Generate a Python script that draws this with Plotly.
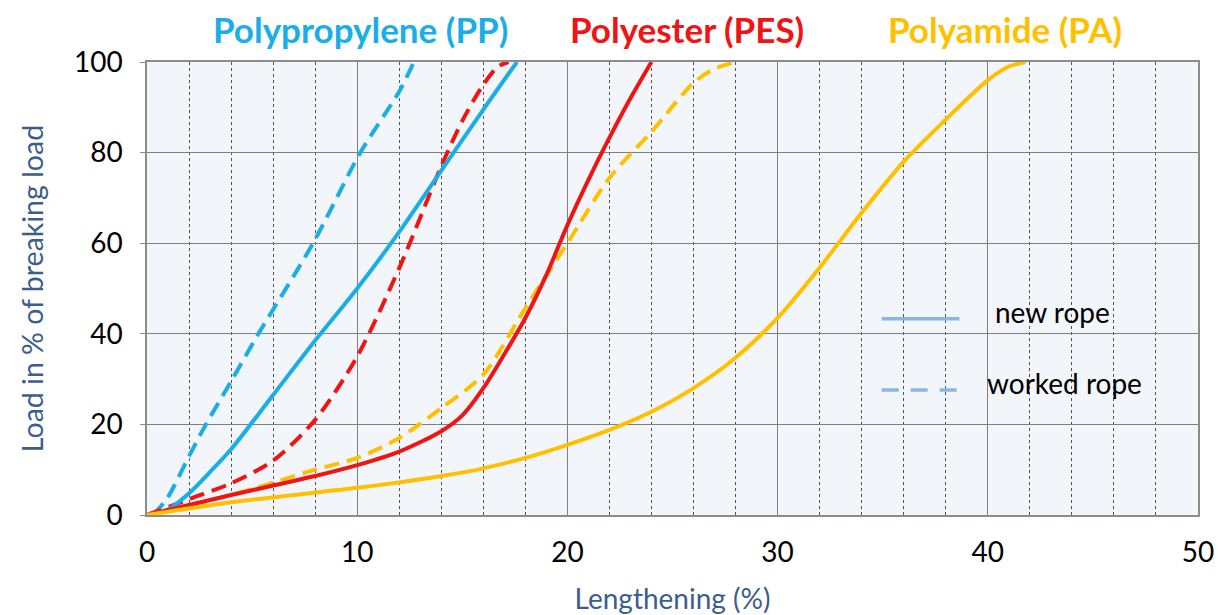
import plotly.graph_objects as go

# ---- data ----
pp_new_x = [0, 1, 2, 3, 4, 6, 8, 10, 12, 14, 16, 17.6]
pp_new_y = [0, 1.2, 4.8, 9.5, 14.5, 26.5, 38.5, 50, 62.5, 76, 89.5, 100]

pp_worked_x = [0.3, 1, 2, 2.8, 4, 5.3, 7.9, 10.15, 12, 12.7]
pp_worked_y = [0, 4, 13, 20, 29.5, 40, 60, 80, 93.5, 100]

pes_new_x = [0, 2, 4, 6, 8, 10, 12, 14, 15, 16, 17, 18, 19, 20, 21, 22, 23, 24]
pes_new_y = [0, 2.2, 4.4, 6.5, 8.6, 11, 14, 18.5, 22, 28, 35.5, 43.5, 53, 64, 74, 83.3, 92, 100]

pes_worked_x = [0, 2, 4, 6, 8, 10, 12, 14, 15, 16, 16.7, 17.2]
pes_worked_y = [0, 3.5, 7, 12, 21, 35, 54.5, 77, 87, 95, 99, 100]

pa_new_x = [0, 4, 10, 12, 14, 16, 18, 20, 22, 24, 26, 28, 30, 32, 34, 36, 38, 40, 41, 41.8]
pa_new_y = [0, 2.8, 6, 7.2, 8.6, 10.3, 12.6, 15.5, 18.8, 22.8, 28, 34.7, 43.5, 54.6, 66.7, 78, 87.3, 96, 99, 100]

pa_worked_x = [0, 4, 8, 10, 12, 14, 16, 18, 20, 22, 24, 26, 27, 28]
pa_worked_y = [0, 4.4, 10, 12.6, 17, 23.6, 31, 45.7, 60, 74.4, 84.6, 95.4, 98.5, 100]

x_ticks = [0, 10, 20, 30, 40, 50]
y_ticks = [0, 20, 40, 60, 80, 100]

titles = ["Polypropylene (PP)", "Polyester (PES)", "Polyamide (PA)"]
legend_labels = ["new rope", "worked rope"]

CYAN = "#1aaee6"
RED = "#f01414"
YELLOW = "#ffc000"
LEG = "#8db4e2"
FONT = "Lato"
DASH = "15px,8px"

fig = go.Figure()

def add(x, y, color, dash):
    fig.add_trace(go.Scatter(
        x=x, y=y, mode="lines",
        line=dict(color=color, width=4, dash=dash, shape="spline", smoothing=0.8),
        hoverinfo="skip", showlegend=False,
    ))

add(pp_worked_x, pp_worked_y, CYAN, DASH)
add(pes_worked_x, pes_worked_y, RED, DASH)
add(pa_worked_x, pa_worked_y, YELLOW, DASH)
add(pp_new_x, pp_new_y, CYAN, "solid")
add(pes_new_x, pes_new_y, RED, "solid")
add(pa_new_x, pa_new_y, YELLOW, "solid")

fig.update_layout(
    width=1222, height=607,
    margin=dict(l=139, r=32, t=54, b=100, autoexpand=False),
    paper_bgcolor="white",
    plot_bgcolor="#f2f5f9",
    font=dict(family=FONT, color="black"),
    showlegend=False,
)

fig.update_xaxes(
    range=[0, 50], tickvals=x_ticks, ticktext=[str(v) for v in x_ticks],
    automargin=False,
    showgrid=True, gridcolor="#7f7f7f", gridwidth=1,
    minor=dict(dtick=2, showgrid=True, gridcolor="#555555", griddash="dot", gridwidth=1),
    showline=True, linecolor="#8c8c8c", linewidth=1.5, mirror=True,
    ticks="", tickfont=dict(size=28, color="black", family=FONT),
    ticklabelstandoff=12, zeroline=False,
    title=dict(text="Lengthening (%)", font=dict(size=28, color="#3b5e8c", family=FONT), standoff=24),
)
fig.update_yaxes(
    range=[0, 100], tickvals=y_ticks, ticktext=[str(v) for v in y_ticks],
    automargin=False,
    showgrid=True, gridcolor="#7f7f7f", gridwidth=1,
    showline=True, linecolor="#8c8c8c", linewidth=1.5, mirror=True,
    ticks="outside", ticklen=5, tickcolor="#8c8c8c",
    tickfont=dict(size=28, color="black", family=FONT),
    ticklabelstandoff=12, zeroline=False,
    title=dict(text="Load in % of breaking load", font=dict(size=28.5, color="#3b5e8c", family=FONT), standoff=22),
)

# series titles above the chart
for txt, xc, col in zip(titles, [0.2027, 0.514, 0.816], [CYAN, RED, YELLOW]):
    fig.add_annotation(text="<b>" + txt + "</b>", x=xc, y=1.0718, xref="paper", yref="paper",
                       showarrow=False, xanchor="center", yanchor="middle",
                       font=dict(size=35, color=col, family=FONT))

# custom legend box
fig.add_shape(type="rect", xref="paper", yref="paper", x0=0.679, x1=0.973, y0=0.201, y1=0.515,
              fillcolor="#f2f5f9", line=dict(width=0), layer="between")
fig.add_shape(type="line", xref="paper", yref="paper", x0=0.699, x1=0.773, y0=0.433, y1=0.433,
              line=dict(color=LEG, width=3.5))
fig.add_shape(type="line", xref="paper", yref="paper", x0=0.699, x1=0.773, y0=0.276, y1=0.276,
              line=dict(color=LEG, width=3.5, dash="17px,12px"))
fig.add_annotation(text=legend_labels[0], x=0.805, y=0.448, xref="paper", yref="paper",
                   showarrow=False, xanchor="left", yanchor="middle",
                   font=dict(size=28, color="black", family=FONT))
fig.add_annotation(text=legend_labels[1], x=0.797, y=0.292, xref="paper", yref="paper",
                   showarrow=False, xanchor="left", yanchor="middle",
                   font=dict(size=28, color="black", family=FONT))

fig.write_html("out.html")
